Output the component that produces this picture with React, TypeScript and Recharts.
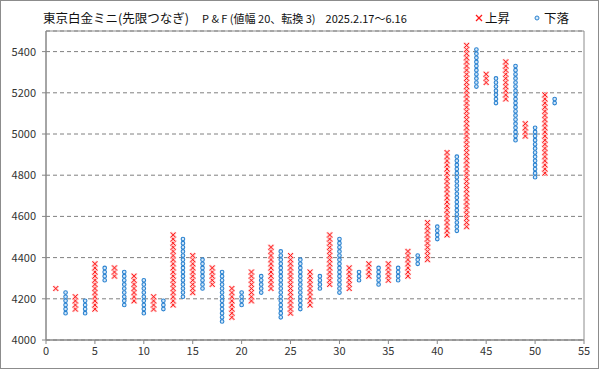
import {
  ScatterChart,
  Scatter,
  XAxis,
  YAxis,
  CartesianGrid,
  ReferenceArea,
} from "recharts";

// P&F columns: kind, lowest box, highest box (box size 20)
const kinds = [
  "X", "O", "X", "O", "X", "O", "X", "O", "X", "O",
  "X", "O", "X", "O", "X", "O", "X", "O", "X", "O",
  "X", "O", "X", "O", "X", "O", "X", "O", "X", "O",
  "X", "O", "X", "O", "X", "O", "X", "O", "X", "O",
  "X", "O", "X", "O", "X", "O", "X", "O", "X", "O",
  "X", "O",
];
const lows = [
  4250, 4130, 4150, 4130, 4150, 4290, 4310, 4170, 4190, 4130,
  4150, 4150, 4170, 4210, 4230, 4250, 4270, 4090, 4110, 4170,
  4190, 4230, 4250, 4110, 4130, 4150, 4170, 4250, 4270, 4230,
  4250, 4290, 4310, 4270, 4290, 4290, 4310, 4370, 4390, 4490,
  4510, 4530, 4550, 5230, 5250, 5150, 5170, 4970, 4990, 4790,
  4810, 5150,
];
const highs = [
  4250, 4230, 4210, 4190, 4370, 4350, 4350, 4330, 4310, 4290,
  4210, 4190, 4510, 4490, 4410, 4390, 4350, 4330, 4250, 4230,
  4330, 4310, 4450, 4430, 4410, 4390, 4330, 4310, 4510, 4490,
  4350, 4330, 4370, 4350, 4370, 4350, 4430, 4410, 4570, 4550,
  4910, 4890, 5430, 5410, 5290, 5270, 5350, 5330, 5050, 5030,
  5190, 5170,
];
const boxSize = 20;

const xTicks = [0, 5, 10, 15, 20, 25, 30, 35, 40, 45, 50, 55];
const yTicks = [4000, 4200, 4400, 4600, 4800, 5000, 5200, 5400];

const buildMarks = (kind: string) => {
  const pts: { x: number; y: number }[] = [];
  kinds.forEach((k, i) => {
    if (k !== kind) return;
    for (let v = lows[i]; v <= highs[i]; v += boxSize) {
      pts.push({ x: i + 1, y: v });
    }
  });
  return pts;
};

const RED = "#ff1a1a";
const BLUE = "#2a82d0";

const CrossMark = (props: any) => {
  const { cx, cy } = props;
  if (cx == null || cy == null) return null;
  const d = 2.5;
  return (
    <g>
      <g stroke="#ffc4c4" strokeWidth={2.4}>
        <line x1={cx - d} y1={cy - d} x2={cx + d} y2={cy + d} />
        <line x1={cx - d} y1={cy + d} x2={cx + d} y2={cy - d} />
      </g>
      <g stroke={RED} strokeWidth={1}>
        <line x1={cx - d} y1={cy - d} x2={cx + d} y2={cy + d} />
        <line x1={cx - d} y1={cy + d} x2={cx + d} y2={cy - d} />
      </g>
    </g>
  );
};

const CircleMark = (props: any) => {
  const { cx, cy } = props;
  if (cx == null || cy == null) return null;
  return <circle cx={cx} cy={cy} r={1.8} fill="#d6e9f9" stroke={BLUE} strokeWidth={1.1} />;
};

export default function App() {
  const xs = buildMarks("X");
  const os = buildMarks("O");
  const font = "'Noto Sans CJK JP', 'Noto Sans', sans-serif";

  return (
    <div style={{ position: "relative", width: 599, height: 369, fontFamily: font, background: "#fff" }}>
      <style>{"body{margin:0}"}</style>
      <div style={{ position: "absolute", left: 0, top: 0 }}>
        <ScatterChart width={599} height={369} margin={{ top: 31, right: 15, bottom: 0, left: 0 }}>
          <CartesianGrid vertical={false} stroke="#808080" strokeDasharray="4 3" />
          <ReferenceArea
            x1={0}
            x2={55}
            y1={4000}
            y2={5500}
            fill="none"
            stroke="#8c8c8c"
            strokeWidth={1}
            ifOverflow="visible"
          />
          <XAxis
            type="number"
            dataKey="x"
            domain={[0, 55]}
            ticks={xTicks}
            height={29}
            tickSize={4}
            tickMargin={3}
            axisLine={{ stroke: "#868686" }}
            tickLine={{ stroke: "#868686" }}
            tick={{ fill: "#333", fontSize: 11, fontFamily: font }}
            allowDataOverflow
          />
          <YAxis
            type="number"
            dataKey="y"
            domain={[4000, 5500]}
            ticks={yTicks}
            width={46}
            tickSize={4}
            tickMargin={6}
            axisLine={{ stroke: "#868686" }}
            tickLine={{ stroke: "#868686" }}
            tick={{ fill: "#333", fontSize: 11, fontFamily: font }}
            allowDataOverflow
          />
          <Scatter name="上昇" data={xs} shape={CrossMark} isAnimationActive={false} />
          <Scatter name="下落" data={os} shape={CircleMark} isAnimationActive={false} />
        </ScatterChart>
      </div>
      <div
        style={{
          position: "absolute",
          left: 43,
          top: 9,
          whiteSpace: "nowrap",
          color: "#111",
          fontSize: 12.5,
          lineHeight: "18px",
        }}
      >
        東京白金ミニ(先限つなぎ)
        <span style={{ fontSize: 11, marginLeft: 13 }}>P &amp; F (値幅 20、転換 3)</span>
        <span style={{ fontSize: 11, marginLeft: 10 }}>2025.2.17～6.16</span>
      </div>
      <div
        style={{
          position: "absolute",
          left: 474,
          top: 9,
          display: "flex",
          alignItems: "center",
          fontSize: 12.5,
          lineHeight: "18px",
          color: "#111",
        }}
      >
        <svg width={10} height={10} style={{ marginRight: 1 }}>
          <line x1={2} y1={2} x2={8} y2={8} stroke={RED} strokeWidth={1.2} />
          <line x1={2} y1={8} x2={8} y2={2} stroke={RED} strokeWidth={1.2} />
        </svg>
        <span>上昇</span>
        <svg width={10} height={10} style={{ marginLeft: 22, marginRight: 2 }}>
          <circle cx={5} cy={5} r={2} fill="#d6e9f9" stroke={BLUE} strokeWidth={1} />
        </svg>
        <span>下落</span>
      </div>
      <div
        style={{
          position: "absolute",
          inset: 0,
          border: "1px solid #8c8c8c",
          boxSizing: "border-box",
          pointerEvents: "none",
        }}
      />
    </div>
  );
}
